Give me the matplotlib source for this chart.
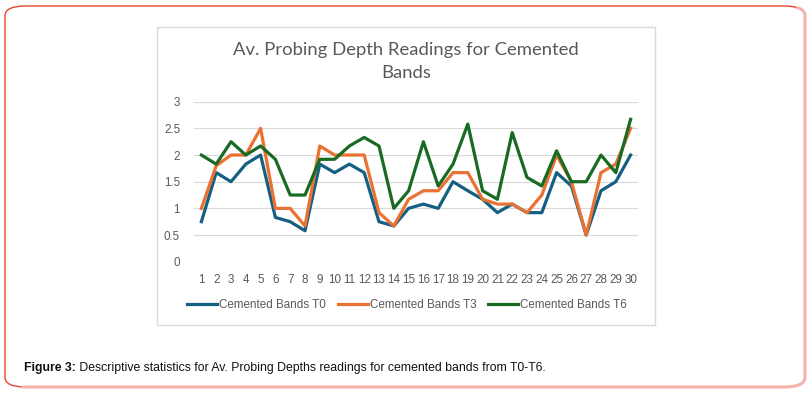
import matplotlib.pyplot as plt
from matplotlib.patches import FancyBboxPatch, Rectangle, Polygon

# data
days = [str(i) for i in range(1, 31)]
t0 = [0.75, 1.67, 1.5, 1.83, 2.0, 0.83, 0.75, 0.58, 1.83, 1.67,
      1.83, 1.67, 0.75, 0.67, 1.0, 1.08, 1.0, 1.5, 1.33, 1.17,
      0.92, 1.08, 0.92, 0.92, 1.67, 1.42, 0.5, 1.33, 1.5, 2.0]
t3 = [1.0, 1.8, 2.0, 2.0, 2.5, 1.0, 1.0, 0.67, 2.17, 2.0,
      2.0, 2.0, 0.92, 0.67, 1.17, 1.33, 1.33, 1.67, 1.67, 1.17,
      1.08, 1.08, 0.92, 1.25, 2.0, 1.5, 0.5, 1.67, 1.83, 2.5]
t6 = [2.0, 1.83, 2.25, 2.0, 2.17, 1.92, 1.25, 1.25, 1.92, 1.92,
      2.17, 2.33, 2.17, 1.0, 1.33, 2.25, 1.42, 1.83, 2.58, 1.33,
      1.17, 2.42, 1.58, 1.42, 2.08, 1.5, 1.5, 2.0, 1.67, 2.67]
series_names = ['Cemented Bands T0', 'Cemented Bands T3', 'Cemented Bands T6']
series_colors = ['#156082', '#E97132', '#196B24']
yticks = [0, 0.5, 1, 1.5, 2, 2.5, 3]

W, H = 812, 397
fig = plt.figure(figsize=(W / 100, H / 100), dpi=100)


def fx(px):
    return px / W


def fy(py):
    return 1 - py / H


# outer rounded frame: pink on bottom/right, red on top/left
frame = dict(boxstyle='round,pad=0,rounding_size=0.025',
             transform=fig.transFigure, fill=False)
pink = FancyBboxPatch((fx(5), fy(387)), fx(800), 381 / H,
                      edgecolor='#F4B3AB', lw=2.2, **frame)
fig.patches.append(pink)
pink.set_clip_path(Polygon([(0, 0), (1, 1), (1, 0)], transform=fig.transFigure))
red = FancyBboxPatch((fx(5), fy(387)), fx(800), 381 / H,
                     edgecolor='#E8452F', lw=1.0, **frame)
fig.patches.append(red)
red.set_clip_path(Polygon([(0, 0), (0, 1), (1, 1)], transform=fig.transFigure))

# chart area border
fig.patches.append(Rectangle((fx(157), fy(325)), fx(498), 298 / H,
                             transform=fig.transFigure, fill=False,
                             edgecolor='#D9D9D9', lw=1.0))

ax = fig.add_axes([fx(194), fy(261.7), fx(444), 160 / H])
x = range(1, 31)
for vals, name, col in zip([t0, t3, t6], series_names, series_colors):
    ax.plot(x, vals, color=col, lw=2.3, label=name, solid_joinstyle='round')

ax.set_xlim(0.5, 30.5)
ax.set_ylim(0, 3)
ax.set_yticks(yticks)
ax.set_yticklabels(['0', '0.5', '1', '1.5', '2', '2.5', '3'])
ax.set_xticks(list(x))
ax.set_xticklabels(days)
ax.grid(axis='y', color='#D9D9D9', lw=0.8)
ax.set_axisbelow(True)
for s in ax.spines.values():
    s.set_visible(False)
ax.tick_params(length=0, colors='#595959', labelsize=8.4, pad=9)
for lab in ax.get_xticklabels() + ax.get_yticklabels():
    lab.set_family('Liberation Sans')
ax.tick_params(axis='y', pad=10)

fig.text(fx(406), fy(50), 'Av. Probing Depth Readings for Cemented', ha='center',
         va='center', fontsize=13.3, color='#595959', family='Lato')
fig.text(fx(406), fy(73), 'Bands', ha='center', va='center', fontsize=13.3,
         color='#595959', family='Lato')

fig.legend(loc='center', bbox_to_anchor=(fx(407), fy(305)), ncol=3, frameon=False,
           prop={'family': 'Liberation Sans', 'size': 8.4}, labelcolor='#595959',
           handlelength=2.6, handletextpad=0.15, columnspacing=1.0)

cap = fig.text(fx(24), fy(368), 'Figure 3:', ha='left', va='center', fontsize=8.8,
               fontweight='bold', family='Liberation Sans', color='#111111')
fig.add_artist(plt.Annotation(' Descriptive statistics for Av. Probing Depths readings for '
                              'cemented bands from T0-T6.', xy=(1, 0.5), xycoords=cap,
                              ha='left', va='center', fontsize=8.8,
                              family='Liberation Sans', color='#111111'))

fig.savefig('out.png', dpi=100)
